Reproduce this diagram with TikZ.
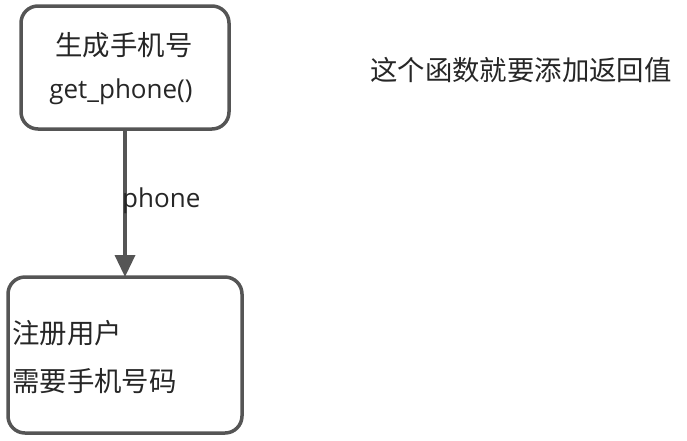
\documentclass[tikz,border=0pt]{standalone}
\usepackage{fontspec}
\setmainfont{Open Sans}
\newfontfamily\cjk{Noto Sans CJK SC}
\usetikzlibrary{arrows.meta}
\definecolor{linegray}{HTML}{555555}
\definecolor{textgray}{HTML}{262626}
\begin{document}
\begin{tikzpicture}[x=1pt,y=-1pt,
  boxstyle/.style={draw=linegray,line width=3.5pt,rounded corners=17pt,fill=white},
  txt/.style={text=textgray,inner sep=0pt},
  cjktxt/.style={txt,font=\cjk\fontsize{27.4}{31}\selectfont},
  lattxt/.style={txt,font=\fontsize{26}{30}\selectfont},
  conn/.style={draw=linegray,line width=3.5pt,-{Triangle[length=22pt,width=20pt]}}]
\useasboundingbox (0,0) rectangle (687,440);
\path[boxstyle] (21,6) rectangle (229,129);
\coordinate (b1s) at (125,129);
\path[boxstyle] (8,277) rectangle (242,433);
\coordinate (b2n) at (125,277);
\node[cjktxt] (t1) at (124,45) {生成手机号};
\node[lattxt] (t2) at (121,92) {get\_phone()};
\node[cjktxt,anchor=west] (t3) at (12,333) {注册用户};
\node[cjktxt,anchor=west] (t4) at (12,381) {需要手机号码};
\node[cjktxt,anchor=west] (t5) at (370,70) {这个函数就要添加返回值};
\draw[conn] (b1s) -- (b2n);
\node[lattxt,anchor=west] (lab) at (122,201) {phone};
\end{tikzpicture}
\end{document}
